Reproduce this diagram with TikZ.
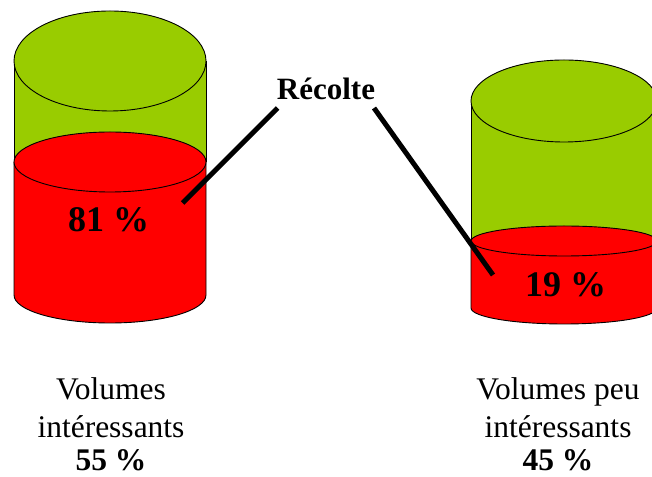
\documentclass[tikz,border=0pt]{standalone}
\usepackage{fontspec}
\setmainfont{Liberation Serif}
\definecolor{leaf}{HTML}{99CC00}
\definecolor{crop}{HTML}{FF0000}
\tikzset{
  edge/.style={draw=black, line width=0.9pt},
  pct/.style={font=\fontsize{36}{40}\selectfont\bfseries, inner sep=0pt, anchor=base},
  caption/.style={font=\fontsize{31.5}{38.5}\selectfont, align=center, inner sep=0pt, anchor=north},
  pointer/.style={draw=black, line width=5pt}
}
% one cylinder: #1 centre x, #2 half width, #3 top y, #4 top ry,
% #5 fill-level y, #6 fill-level ry, #7 bottom y, #8 bottom ry
\newcommand{\drum}[8]{%
  \fill[leaf] (#1-#2,#3) -- (#1-#2,#5)
    arc[start angle=180, end angle=360, x radius=#2, y radius=#6]
    -- (#1+#2,#3)
    arc[start angle=0, end angle=180, x radius=#2, y radius=#4] -- cycle;
  \draw[edge] (#1-#2,#3) -- (#1-#2,#5) (#1+#2,#3) -- (#1+#2,#5);
  \fill[crop] (#1-#2,#5) -- (#1-#2,#7)
    arc[start angle=180, end angle=360, x radius=#2, y radius=#8]
    -- (#1+#2,#5)
    arc[start angle=0, end angle=180, x radius=#2, y radius=#6] -- cycle;
  \draw[edge] (#1-#2,#5) -- (#1-#2,#7)
    arc[start angle=180, end angle=360, x radius=#2, y radius=#8]
    -- (#1+#2,#5);
  \draw[edge, fill=crop] (#1,#5) ellipse[x radius=#2, y radius=#6];
  \draw[edge, fill=leaf] (#1,#3) ellipse[x radius=#2, y radius=#4];
}
\begin{document}
\begin{tikzpicture}[x=1pt, y=1pt]
  \useasboundingbox (0,0) rectangle (652,476);

  % left and right cylinders
  \drum{110}{96}{415}{50}{314}{30}{181}{28}
  \drum{564}{93}{375}{41}{235}{15}{168}{16}

  % shares inside the cylinders
  \node[pct] (p81) at (108.5,244) {81 \%};
  \node[pct] (p19) at (565.5,179) {19 \%};

  % harvest label and its pointers
  \node[font=\fontsize{31}{36}\selectfont\bfseries, inner sep=0pt, anchor=base]
    (rec) at (326,376) {Récolte};
  \coordinate (recL) at (277.7,368);
  \coordinate (recR) at (374,368);
  \coordinate (tipL) at (182.7,273);
  \coordinate (tipR) at (493,201);
  \draw[pointer] (recL) -- (tipL);
  \draw[pointer] (recR) -- (tipR);

  % captions under the cylinders
  \node[caption] (capL) at (111,99)
    {Volumes\\intéressants\\[-6pt]\textbf{55 \%}};
  \node[caption] (capR) at (558,99)
    {Volumes peu\\intéressants\\[-6pt]\textbf{45 \%}};
\end{tikzpicture}
\end{document}
